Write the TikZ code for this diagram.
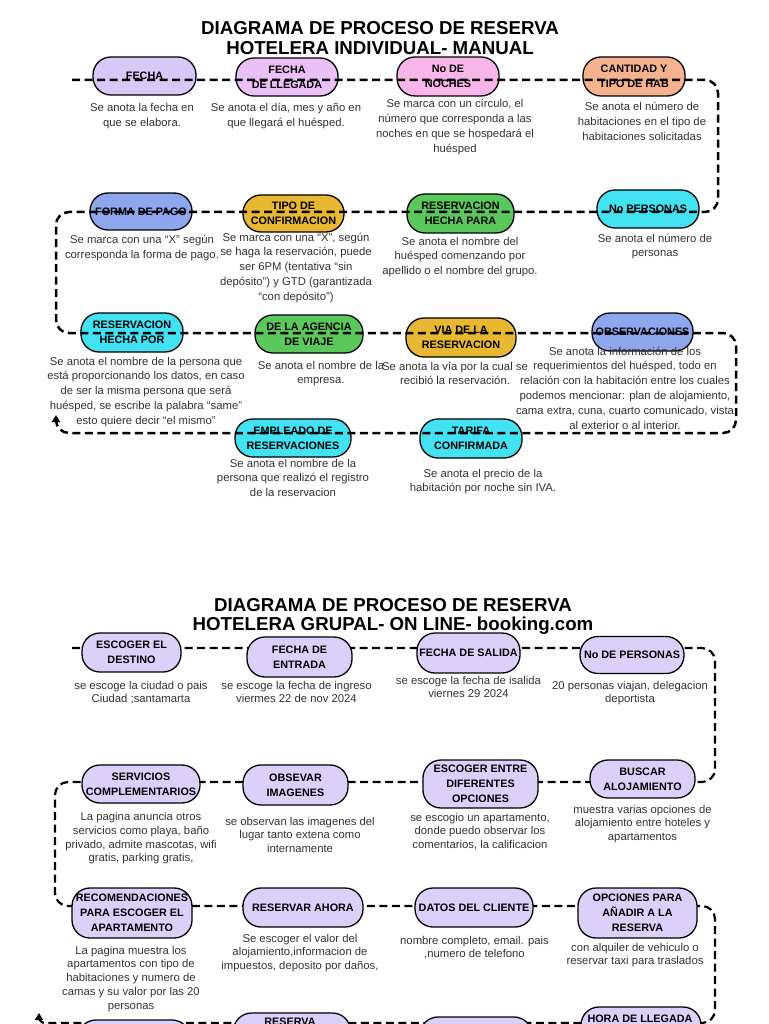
\documentclass[tikz,border=0pt]{standalone}
\usepackage{fontspec}
\setmainfont{Liberation Sans}
\usetikzlibrary{arrows.meta}
\definecolor{lavA}{HTML}{D8C8F8}
\definecolor{pinkv}{HTML}{EBC0F8}
\definecolor{pinkA}{HTML}{F7B5EA}
\definecolor{peach}{HTML}{F4B38E}
\definecolor{blueA}{HTML}{8EA6EE}
\definecolor{goldA}{HTML}{E8B832}
\definecolor{greenA}{HTML}{5BC85B}
\definecolor{cyanA}{HTML}{42E2F2}
\definecolor{lavB}{HTML}{DCD0FA}
\definecolor{descgray}{HTML}{333333}
\begin{document}
\begin{tikzpicture}[x=1pt,y=-1pt,
  pill/.style={draw=black, line width=1.3pt, rounded corners=18pt, inner sep=0pt, align=center, text=black, font=\bfseries\fontsize{10.8}{15}\selectfont},
  pilltext/.style={inner sep=0pt, align=center, text=black, font=\bfseries\fontsize{10.8}{15}\selectfont},
  desc/.style={align=center, inner sep=0pt, anchor=base, text=descgray, font=\fontsize{11.3}{14.8}\selectfont},
  desctwo/.style={desc, font=\fontsize{11.3}{13.8}\selectfont},
  ttl/.style={align=center, inner sep=0pt, anchor=base, text=black},
  flowA/.style={draw=black, line width=2.5pt, dash pattern=on 8pt off 4.5pt, rounded corners=13pt},
  flowB/.style={draw=black, line width=2.2pt, dash pattern=on 8pt off 4.5pt, rounded corners=13pt},
  tip/.style={-{Triangle[width=8pt,length=7pt]}},
]
\useasboundingbox (0,0) rectangle (768,1024);
\clip (0,0) rectangle (768,1024);
\fill[white] (0,0) rectangle (768,1024);

% ---------------- Diagram 1 ----------------
\node[ttl, font=\bfseries\fontsize{18.7}{20}\selectfont] (t1) at (380,54.7) {DIAGRAMA DE PROCESO DE RESERVA\\HOTELERA INDIVIDUAL- MANUAL};

\node[pill, fill=lavA, minimum width=103pt, minimum height=38pt] (a1) at (144.5,76) {FECHA};
\node[pill, fill=pinkv, minimum width=102pt, minimum height=38pt] (a2) at (287,77) {FECHA\\DE LLEGADA};
\node[pill, fill=pinkA, minimum width=102pt, minimum height=39pt] (a3) at (448,76.5) {No DE\\NOCHES};
\node[pill, fill=peach, minimum width=102pt, minimum height=39pt] (a4) at (634,76.5) {CANTIDAD Y\\TIPO DE HAB};

\node[pill, fill=blueA, minimum width=102pt, minimum height=37pt] (b1) at (141,211.5) {FORMA DE PAGO};
\node[pill, fill=goldA, minimum width=101pt, minimum height=37pt] (b2) at (293.5,213.5) {TIPO DE\\CONFIRMACION};
\node[pill, fill=greenA, minimum width=107pt, minimum height=39pt] (b3) at (460.5,213.5) {RESERVACION\\HECHA PARA};
\node[pill, fill=cyanA, minimum width=102pt, minimum height=38pt] (b4) at (648,209) {No PERSONAS};

\node[pill, fill=cyanA, minimum width=102pt, minimum height=39pt] (c1) at (132,332.5) {RESERVACION\\HECHA POR};
\node[pill, fill=greenA, minimum width=108pt, minimum height=38pt] (c2) at (309,334) {DE LA AGENCIA\\DE VIAJE};
\node[pill, fill=goldA, minimum width=110pt, minimum height=39pt] (c3) at (461,337.5) {VIA DE LA\\RESERVACION};
\node[pill, fill=blueA, minimum width=101pt, minimum height=38pt] (c4) at (642.5,332) {OBSERVACIONES};

\node[pill, fill=cyanA, minimum width=116pt, minimum height=38pt] (d1) at (293,438) {EMPLEADO DE\\RESERVACIONES};
\node[pill, fill=cyanA, minimum width=102pt, minimum height=39pt] (d2) at (471,438.5) {TARIFA\\CONFIRMADA};

\node[desc] (ad1) at (142,126.3) {Se anota la fecha en\\que se elabora.};
\node[desc] (ad2) at (286,126.8) {Se anota el día, mes y año en\\que llegará el huésped.};
\node[desc] (ad3) at (455,152.4) {Se marca con un círculo, el\\número que corresponda a las\\noches en que se hospedará el\\huésped};
\node[desc] (ad4) at (642,140.6) {Se anota el número de\\habitaciones en el tipo de\\habitaciones solicitadas};

\node[desc] (bd1) at (142,258.8) {Se marca con una “X” según\\corresponda la forma de pago.};
\node[desc] (bd2) at (296,300.2) {Se marca con una “X”, según\\se haga la reservación, puede\\ser 6PM (tentativa “sin\\depósito”) y GTD (garantizada\\“con depósito”)};
\node[desc] (bd3) at (460,274.6) {Se anota el nombre del\\huésped comenzando por\\apellido o el nombre del grupo.};
\node[desc] (bd4) at (655,256.8) {Se anota el número de\\personas};

\node[desc] (cd1) at (146,424.2) {Se anota el nombre de la persona que\\está proporcionando los datos, en caso\\de ser la misma persona que será\\huésped, se escribe la palabra “same”\\esto quiere decir “el mismo”};
\node[desc] (cd2) at (321,383.8) {Se anota el nombre de la\\empresa.};
\node[desc] (cd3) at (455,384.8) {Se anota la vía por la cual se\\recibió la reservación.};
\node[desc] (cd4) at (625,429) {Se anota la información de los\\requerimientos del huésped, todo en\\relación con la habitación entre los cuales\\podemos mencionar: plan de alojamiento,\\cama extra, cuna, cuarto comunicado, vista\\al exterior o al interior.};

\node[desc] (dd1) at (293,496.6) {Se anota el nombre de la\\persona que realizó el registro\\de la reservacion};
\node[desc] (dd2) at (483,491.8) {Se anota el precio de la\\habitación por noche sin IVA.};

\coordinate (s1) at (72,80);
\coordinate (k1) at (718,212);
\coordinate (k2) at (56,333);
\coordinate (k3) at (736,433);
\coordinate (k4) at (56,415);
\draw[flowA, tip] (s1) -| (k1) -| (k2) -| (k3) -| (k4);

% ---------------- Diagram 2 ----------------
\node[ttl, font=\bfseries\fontsize{18.7}{18.5}\selectfont] (t2) at (393,630) {DIAGRAMA DE PROCESO DE RESERVA\\HOTELERA GRUPAL- ON LINE- booking.com};

\coordinate (s2) at (72,648);
\coordinate (m1) at (715,782);
\coordinate (m2) at (55,906);
\coordinate (m3) at (715,1023);
\coordinate (m4) at (39,1013);
\draw[flowB, tip] (s2) -| (m1) -| (m2) -| (m3) [rounded corners=6pt] -| (m4);

\node[pill, fill=lavB, minimum width=99pt, minimum height=39pt] (e1) at (131.5,652.5) {ESCOGER EL\\DESTINO};
\node[pill, fill=lavB, minimum width=105pt, minimum height=40pt] (e2) at (299.5,657) {FECHA DE\\ENTRADA};
\node[pill, fill=lavB, minimum width=103pt, minimum height=40pt] (e3) at (468.5,653) {FECHA DE SALIDA};
\node[pill, fill=lavB, minimum width=104pt, minimum height=37pt] (e4) at (632,655) {No DE PERSONAS};

\node[pill, fill=lavB, minimum width=118pt, minimum height=38pt] (f1) at (141,784) {SERVICIOS\\COMPLEMENTARIOS};
\node[pill, fill=lavB, minimum width=105pt, minimum height=40pt] (f2) at (295.5,785) {OBSEVAR\\IMAGENES};
\node[pill, fill=lavB, minimum width=115pt, minimum height=48pt] (f3) at (480.5,784) {ESCOGER ENTRE\\DIFERENTES\\OPCIONES};
\node[pill, fill=lavB, minimum width=105pt, minimum height=38pt] (f4) at (642.5,779) {BUSCAR\\ALOJAMIENTO};

\node[pill, fill=lavB, minimum width=120pt, minimum height=50pt] (g1) at (132,913) {RECOMENDACIONES\\PARA ESCOGER EL\\APARTAMENTO};
\node[pill, fill=lavB, minimum width=120pt, minimum height=39pt] (g2) at (303,907.5) {RESERVAR AHORA};
\node[pill, fill=lavB, minimum width=118pt, minimum height=39pt] (g3) at (474,907.5) {DATOS DEL CLIENTE};
\node[pill, fill=lavB, minimum width=119pt, minimum height=50pt] (g4) at (637.5,913) {OPCIONES PARA\\AÑADIR A LA\\RESERVA};

\node[pill, fill=lavB, minimum width=112pt, minimum height=38pt] (h1) at (134,1039) {};
\node[pill, fill=lavB, minimum width=117pt, minimum height=38pt] (h2) at (292,1032) {};
\node[pill, fill=lavB, minimum width=112pt, minimum height=38pt] (h3) at (476,1036) {};
\node[pill, fill=lavB, minimum width=120pt, minimum height=38pt] (h4) at (641,1026) {};
\node[pilltext] (h2t) at (290,1022) {RESERVA};
\node[pilltext] (h4t) at (640,1019) {HORA DE LLEGADA};

\node[desctwo] (ed1) at (141,702.8) {se escoge la ciudad o pais\\Ciudad ;santamarta};
\node[desctwo] (ed2) at (296.5,702.8) {se escoge la fecha de ingreso\\viermes 22 de nov 2024};
\node[desctwo] (ed3) at (468.5,697.8) {se escoge la fecha de isalida\\viernes 29 2024};
\node[desctwo] (ed4) at (630,702.8) {20 personas viajan, delegacion\\deportista};

\node[desctwo] (fd1) at (141,861.9) {La pagina anuncia otros\\servicios como playa, baño\\privado, admite mascotas, wifi\\gratis, parking gratis,};
\node[desctwo] (fd2) at (300,852.6) {se observan las imagenes del\\lugar tanto extena como\\internamente};
\node[desctwo] (fd3) at (480,848.6) {se escogio un apartamento,\\donde puedo observar los\\comentarios, la calificacion};
\node[desctwo] (fd4) at (642.5,840.6) {muestra varias opciones de\\alojamiento entre hoteles y\\apartamentos};

\node[desctwo] (gd1) at (131,1009.2) {La pagina muestra los\\apartamentos con tipo de\\habitaciones y numero de\\camas y su valor por las 20\\personas};
\node[desctwo] (gd2) at (300,969.6) {Se escoger el valor del\\alojamiento,informacion de\\impuestos, deposito por daños,};
\node[desctwo] (gd3) at (474.5,957.8) {nombre completo, email. pais\\,numero de telefono};
\node[desctwo] (gd4) at (635,964.8) {con alquiler de vehiculo o\\reservar taxi para traslados};
\end{tikzpicture}
\end{document}
